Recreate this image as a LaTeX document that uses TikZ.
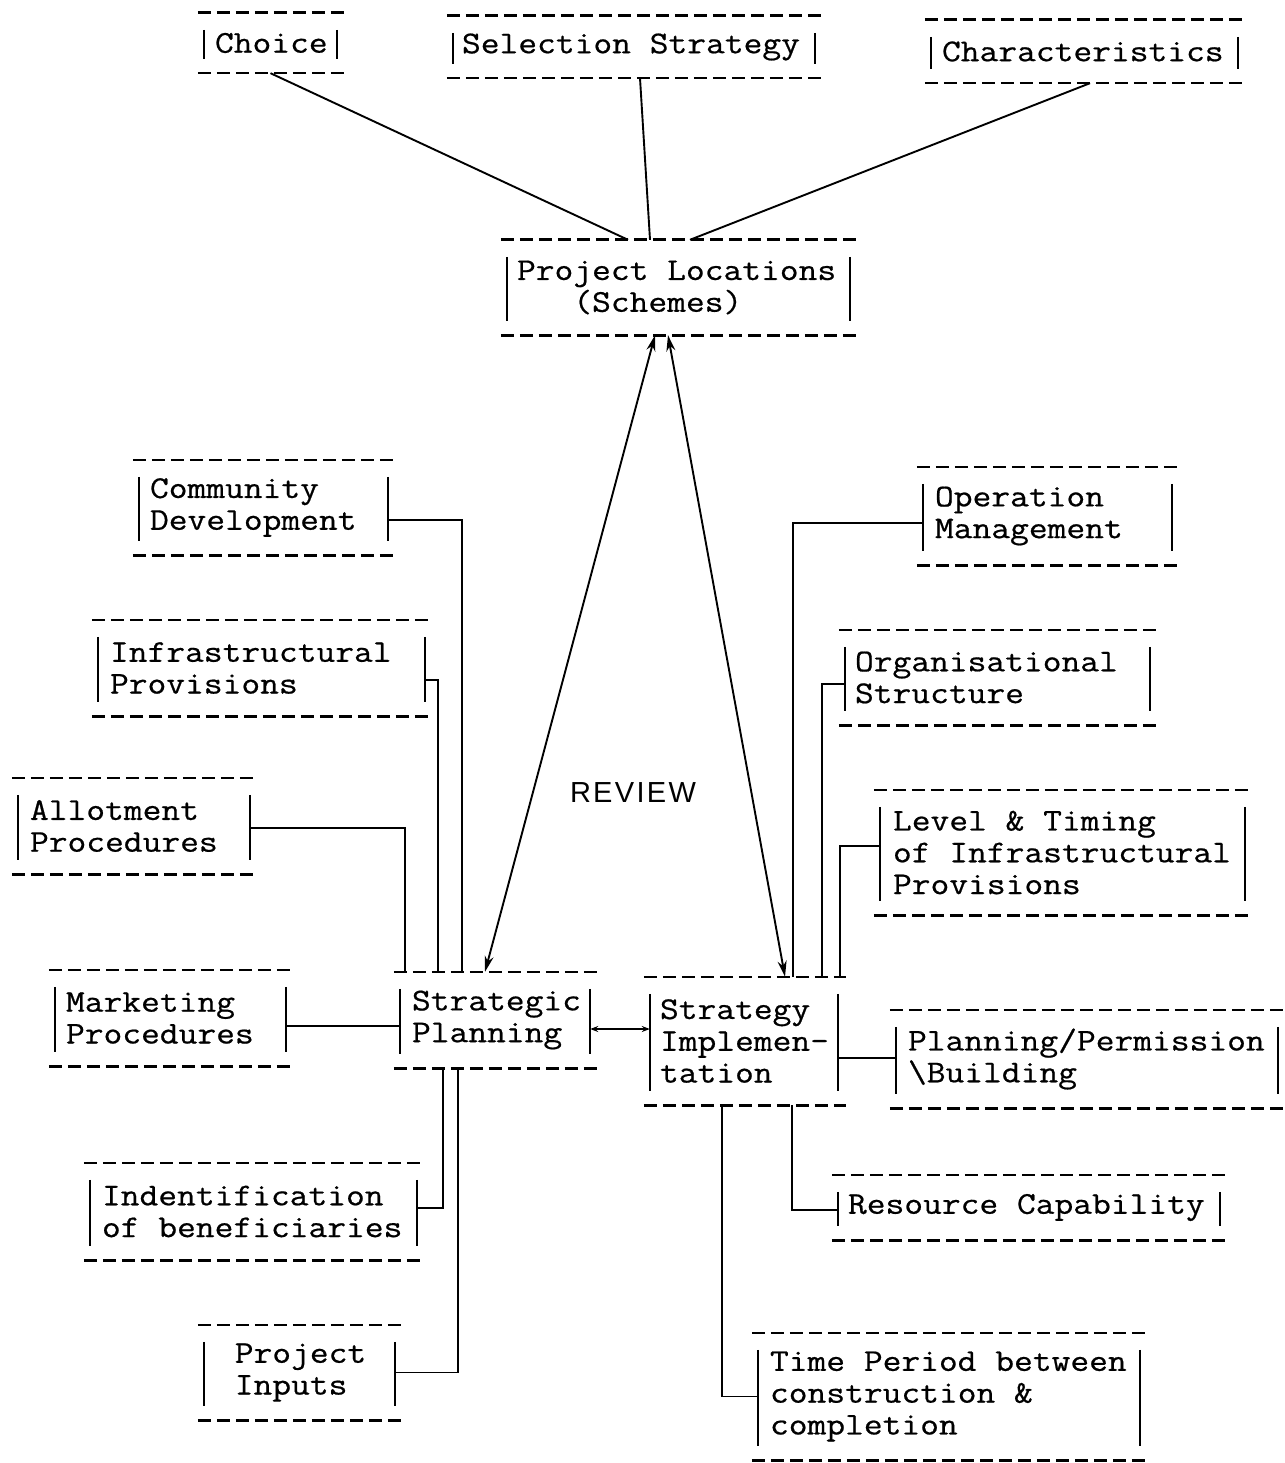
\documentclass[tikz,border=0pt]{standalone}
\usepackage{fontspec}
\usetikzlibrary{arrows.meta,fit}
\newfontfamily\twfont[FakeBold=0.6,FakeStretch=1.15]{Latin Modern Mono}
\newfontfamily\revfont[LetterSpace=8]{Liberation Sans}
\tikzset{
  tw/.style={font={\twfont\fontsize{31.7}{31.8}\selectfont}, align=left, inner sep=0pt},
  dashline/.style={line width=2.6pt, dash pattern=on 13pt off 6pt},
  bar/.style={line width=2pt},
  conn/.style={line width=1.9pt},
  review/.style={line width=1.9pt, {Stealth[length=16pt,width=9pt]}-{Stealth[length=16pt,width=9pt]}},
  small arrows/.style={line width=1.9pt, {Stealth[length=8pt,width=6pt]}-{Stealth[length=8pt,width=6pt]}},
  boxarea/.style={inner sep=0pt, draw=none}
}
% #1 name, #2 left bar x, #3 right bar x, #4 top dash y, #5 bottom dash y, #6 text offset, #7 text
\newcommand\twbox[7]{%
  \node[boxarea, fit={(#2,#4) (#3,#5)}] (#1) {};
  \draw[dashline] ([xshift=-6pt]#1.north west) -- ([xshift=8pt]#1.north east);
  \draw[dashline] ([xshift=-6pt]#1.south west) -- ([xshift=8pt]#1.south east);
  \draw[bar] ([yshift=-17pt]#1.north west) -- ([yshift=14pt]#1.south west);
  \draw[bar] ([yshift=-17pt]#1.north east) -- ([yshift=14pt]#1.south east);
  \node[tw, anchor=west] (#1-t) at ([xshift=#6pt]#1.west) {#7};
}
\begin{document}
\begin{tikzpicture}[x=1pt, y=-1pt]
\fill[white] (0,0) rectangle (1284,1463);
\useasboundingbox (0,0) rectangle (1284,1463);

\twbox{ch}{204}{337}{13}{73}{11}{Choice}
\twbox{ss}{453}{815}{16}{78}{9}{Selection Strategy}
\twbox{chr}{931}{1238}{20}{83}{11}{Characteristics}
\twbox{pl}{507}{850}{240}{335}{10}{Project Locations\\\phantom{xxx}(Schemes)}
\twbox{cd}{139}{388}{460}{555}{11}{Community\\Development}
\twbox{ip}{98}{425}{620}{716}{12}{Infrastructural\\Provisions}
\twbox{ap}{18}{250}{778}{874}{12}{Allotment\\Procedures}
\twbox{mp}{55}{286}{970}{1066}{11}{Marketing\\Procedures}
\twbox{sp}{400}{590}{972}{1068}{12}{Strategic\\Planning}
\twbox{ib}{90}{417}{1163}{1260}{12}{Indentification\\of beneficiaries}
\twbox{pi}{204}{395}{1325}{1420}{12}{\phantom{x}Project\\\phantom{x}Inputs}
\twbox{si}{650}{838}{977}{1105}{10}{Strategy\\Implemen-\\tation}
\twbox{om}{923}{1172}{467}{565}{12}{Operation\\Management}
\twbox{os}{845}{1150}{630}{725}{10}{Organisational\\Structure}
\twbox{lt}{880}{1245}{790}{915}{13}{Level \& Timing\\of Infrastructural\\Provisions}
\twbox{pb}{896}{1278}{1010}{1108}{12}{Planning/Permission\\\textbackslash Building}
\twbox{rc}{838}{1220}{1175}{1240}{10}{Resource Capability}
\twbox{tp}{758}{1140}{1333}{1460}{12}{Time Period between\\construction \&\\completion}

\node[font={\revfont\fontsize{29}{30}\selectfont}] (rev) at (633,793) {REVIEW};

% top connectors
\draw[conn] (ch.south) -- ([xshift=-50.5pt]pl.north);
\draw[conn] ([xshift=6pt]ss.south) -- ([xshift=-28.5pt]pl.north);
\draw[conn] ([xshift=5.5pt]chr.south) -- ([xshift=11.5pt]pl.north);

% review arrows
\draw[review] ([xshift=-23.5pt]pl.south) -- ([xshift=-10pt]sp.north);
\draw[review] ([xshift=-10.5pt]pl.south) -- ([xshift=41pt]si.north);

% left side
\draw[conn] ([yshift=-12.5pt]cd.east) -| ([xshift=-33pt]sp.north);
\draw[conn] ([yshift=-12pt]ip.east) -| ([xshift=-57pt]sp.north);
\draw[conn] ([yshift=-2pt]ap.east) -| ([xshift=-90pt]sp.north);
\draw[conn] ([yshift=-8pt]mp.east) -- ([yshift=-6pt]sp.west);
\draw[conn] ([yshift=3.5pt]ib.east) -| ([xshift=-52pt]sp.south);
\draw[conn] (pi.east) -| ([xshift=-37pt]sp.south);

% middle
\draw[small arrows] ([yshift=-9pt]sp.east) -- ([yshift=12pt]si.west);

% right side
\draw[conn] ([yshift=-7pt]om.west) -| ([xshift=49pt]si.north);
\draw[conn] ([yshift=-6.5pt]os.west) -| ([xshift=78pt]si.north);
\draw[conn] ([yshift=6.5pt]lt.west) -| ([xshift=96pt]si.north);
\draw[conn] ([yshift=-17pt]si.east) -- ([yshift=1pt]pb.west);
\draw[conn] ([xshift=48pt]si.south) |- ([yshift=-2.5pt]rc.west);
\draw[conn] ([xshift=-22pt]si.south) |- (tp.west);
\end{tikzpicture}
\end{document}
